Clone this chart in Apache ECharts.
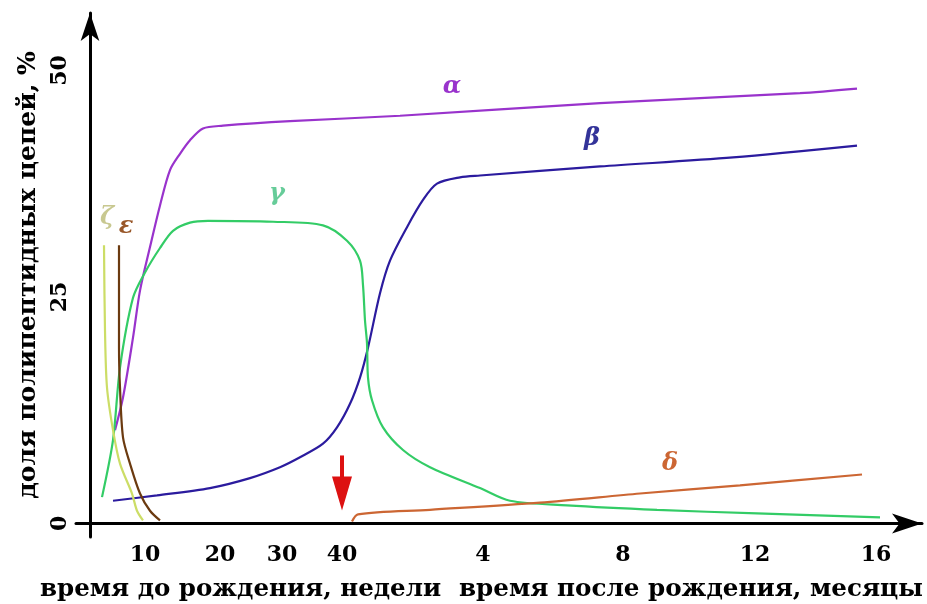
<!DOCTYPE html>
<html><head><meta charset="utf-8">
<script src="https://cdn.jsdelivr.net/npm/echarts@6/dist/echarts.min.js"></script>
<style>html,body{margin:0;padding:0;background:#fff}#c{width:927px;height:604px}</style>
</head><body><div id="c"></div>
<script>
// x axis: position along the (non-uniform) time line; ticks are labelled with weeks / months
const xTickLabels = ['10','20','30','40','4','8','12','16'];
const xTickPos = [55,130,192,252,393,533,665,786];
const yTickValues = [0,25,50];
const birthPos = 252;

const alpha = [[25,10.3],[33,13.9],[43,20.5],[50,25.7],[60,30.5],[70,35.1],[80,39.0],[90,40.8],[100,42.3],[113,43.6],[133,43.9],[200,44.4],[310,45.0],[510,46.4],[710,47.5],[767,48.0]];
const beta = [[23,2.5],[67,3.1],[120,3.9],[160,5.0],[190,6.2],[210,7.3],[233,8.8],[247,10.6],[260,13.2],[270,16.1],[278,19.4],[290,25.4],[300,29.0],[317,32.7],[333,35.7],[347,37.5],[370,38.2],[390,38.4],[510,39.4],[643,40.4],[767,41.7]];
const gamma = [[12,2.9],[23,9.2],[30,17.2],[43,24.9],[55,27.7],[70,30.4],[83,32.3],[100,33.2],[118,33.4],[183,33.3],[233,32.9],[257,31.2],[270,29.0],[273,26.3],[275,22.4],[277,19.9],[278,16.1],[282,13.6],[293,10.6],[313,8.1],[340,6.2],[390,3.9],[420,2.5],[477,2.0],[567,1.5],[667,1.1],[790,0.66]];
const delta = [[262,0.2],[268,1.0],[340,1.5],[450,2.3],[550,3.3],[650,4.2],[772,5.4]];
const zeta = [[14,30.7],[15,21.3],[17,15.0],[23,10.3],[30,6.6],[42,3.3],[47,1.4],[53,0.33]];
const epsilon = [[29,30.7],[29,19.4],[30,15.0],[33,9.5],[40,6.6],[50,3.3],[60,1.4],[70,0.33]];

const seriesNames = ['α','β','γ','δ','ζ','ε'];
const labelPos = [[362,48.2],[502,42.5],[187,36.4],[580,6.6],[17,33.7],[36,32.7]];
const arrowFrom = 7.5, arrowTo = 3.3;

const lineColors = ['#9933CC','#2B1B9E','#33CC66','#CC6633','#CCDD66','#6B3A10'];
const labelColors = ['#9933CC','#333399','#66CC99','#CC6633','#C8C890','#99582A'];
const allData = [alpha, beta, gamma, delta, zeta, epsilon];

const FONT = 'DejaVu Serif';

const series = allData.map((d, i) => ({
  name: seriesNames[i],
  type: 'line',
  data: d,
  smooth: 0.3,
  showSymbol: false,
  symbol: 'none',
  lineStyle: {color: lineColors[i], width: 2.2},
  z: 3,
  silent: true,
  markPoint: {
    symbol: 'circle', symbolSize: 0,
    data: [{coord: labelPos[i], name: seriesNames[i]}],
    label: {show: true, formatter: '{b}', color: labelColors[i], fontFamily: FONT,
      fontWeight: 'bold', fontStyle: 'italic', fontSize: 24},
    silent: true
  }
}));
series[3].markLine = {
  silent: true,
  symbol: ['none','triangle'],
  symbolSize: [20, 34],
  lineStyle: {color: '#DD1111', width: 4, type: 'solid'},
  label: {show: false},
  data: [[{coord: [birthPos, arrowFrom]}, {coord: [birthPos, arrowTo]}]]
};

const chart = echarts.init(document.getElementById('c'));
chart.setOption({
  backgroundColor: '#fff',
  animation: false,
  title: [
    {text: 'время до рождения, недели', left: 40, top: 577,
     textStyle: {fontFamily: FONT, fontWeight: 'bold', fontSize: 24.5, color: '#000'}, padding: 0},
    {text: 'время после рождения, месяцы', left: 459, top: 577,
     textStyle: {fontFamily: FONT, fontWeight: 'bold', fontSize: 24.6, color: '#000'}, padding: 0}
  ],
  grid: {left: 76, right: 5, top: 13, bottom: 67, outerBoundsMode: 'none', containLabel: false},
  xAxis: {
    type: 'value', min: -14, max: 832,
    axisLine: {onZero: true, lineStyle: {color: '#000', width: 3}, symbol: ['none','arrow'], symbolSize: [15, 30]},
    axisTick: {show: false},
    splitLine: {show: false},
    axisLabel: {
      customValues: xTickPos,
      formatter: v => { const i = xTickPos.indexOf(v); return i >= 0 ? xTickLabels[i] : ''; },
      fontFamily: FONT, fontWeight: 'bold', fontSize: 22, color: '#000', margin: 7
    }
  },
  yAxis: {
    type: 'value', min: -1.5, max: 56.34,
    name: 'доля полипептидных цепей, %',
    nameLocation: 'middle', nameRotate: 90, nameGap: 35,
    nameTextStyle: {fontFamily: FONT, fontWeight: 'bold', fontSize: 25, color: '#000'},
    axisLine: {onZero: true, lineStyle: {color: '#000', width: 3}, symbol: ['none','arrow'], symbolSize: [14, 28]},
    axisTick: {show: false},
    splitLine: {show: false},
    axisLabel: {
      customValues: yTickValues, rotate: 90,
      fontFamily: FONT, fontWeight: 'bold', fontSize: 22, color: '#000', margin: 5
    }
  },
  series: series
});
</script></body></html>
